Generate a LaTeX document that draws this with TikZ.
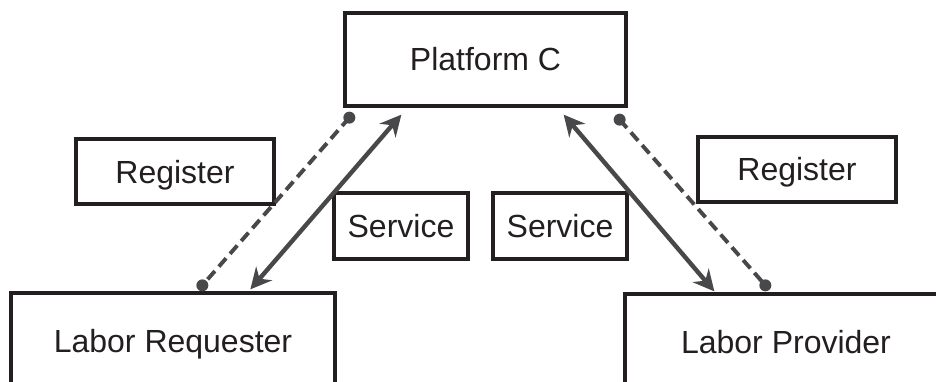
\documentclass[tikz,border=0pt]{standalone}
\usepackage{fontspec}
\setmainfont{Liberation Sans}
\usetikzlibrary{arrows.meta,calc}
\definecolor{boxline}{HTML}{231F20}
\definecolor{arrowgray}{HTML}{48484A}
\begin{document}
\begin{tikzpicture}[x=1pt,y=-1pt,
  box/.style={draw=boxline, line width=3.3pt, text=boxline, inner sep=0pt,
    text height=23pt, text depth=0pt, font=\fontsize{32}{38}\selectfont},
  flow/.style={draw=arrowgray, line width=4.4pt,
    {Stealth[length=21pt,width=21pt,inset=7pt]}-{Stealth[length=21pt,width=21pt,inset=7pt]}},
  reg/.style={draw=arrowgray, line width=3.9pt, dash pattern=on 11pt off 6pt},
  regdot/.style={fill=arrowgray}]
\useasboundingbox (0,0) rectangle (936,382);
\clip (0,0) rectangle (936,382);
\fill[white] (0,0) rectangle (936,382);

\node[box, minimum width=281pt, minimum height=93pt] (plat) at (485.5,59.5) {Platform C};
\node[box, minimum width=198pt, minimum height=65pt] (regL) at (175,171.5) {Register};
\node[box, minimum width=198pt, minimum height=65pt] (regR) at (797,169.5) {Register};
\node[box, minimum width=134pt, minimum height=66pt] (servL) at (401,226) {Service};
\node[box, minimum width=134pt, minimum height=66pt] (servR) at (560,226) {Service};
\node[box, minimum width=324pt, minimum height=96pt] (req) at (173,341) {Labor Requester};
\node[box, minimum width=322pt, minimum height=95pt] (prov) at (786,341.5) {Labor Provider};

% connector end points
\coordinate (sLt) at ($(plat.south west)+(58,7)$);
\coordinate (sLb) at ($(req.north west)+(241,-2)$);
\coordinate (dLt) at ($(plat.south west)+(6,10)$);
\coordinate (dLb) at ($(req.north west)+(193,-6)$);
\coordinate (sRt) at ($(plat.south east)+(-64,7)$);
\coordinate (sRb) at ($(prov.north west)+(91,-1)$);
\coordinate (dRt) at ($(plat.south east)+(-8,12)$);
\coordinate (dRb) at ($(prov.north west)+(142,-7)$);

\draw[flow] (sLt) -- (sLb);
\draw[flow] (sRt) -- (sRb);
\draw[reg] (dLt) -- (dLb);
\draw[reg] (dRt) -- (dRb);
\fill[regdot] (dLt) circle (6pt);
\fill[regdot] (dLb) circle (6pt);
\fill[regdot] (dRt) circle (6pt);
\fill[regdot] (dRb) circle (6pt);
\end{tikzpicture}
\end{document}
